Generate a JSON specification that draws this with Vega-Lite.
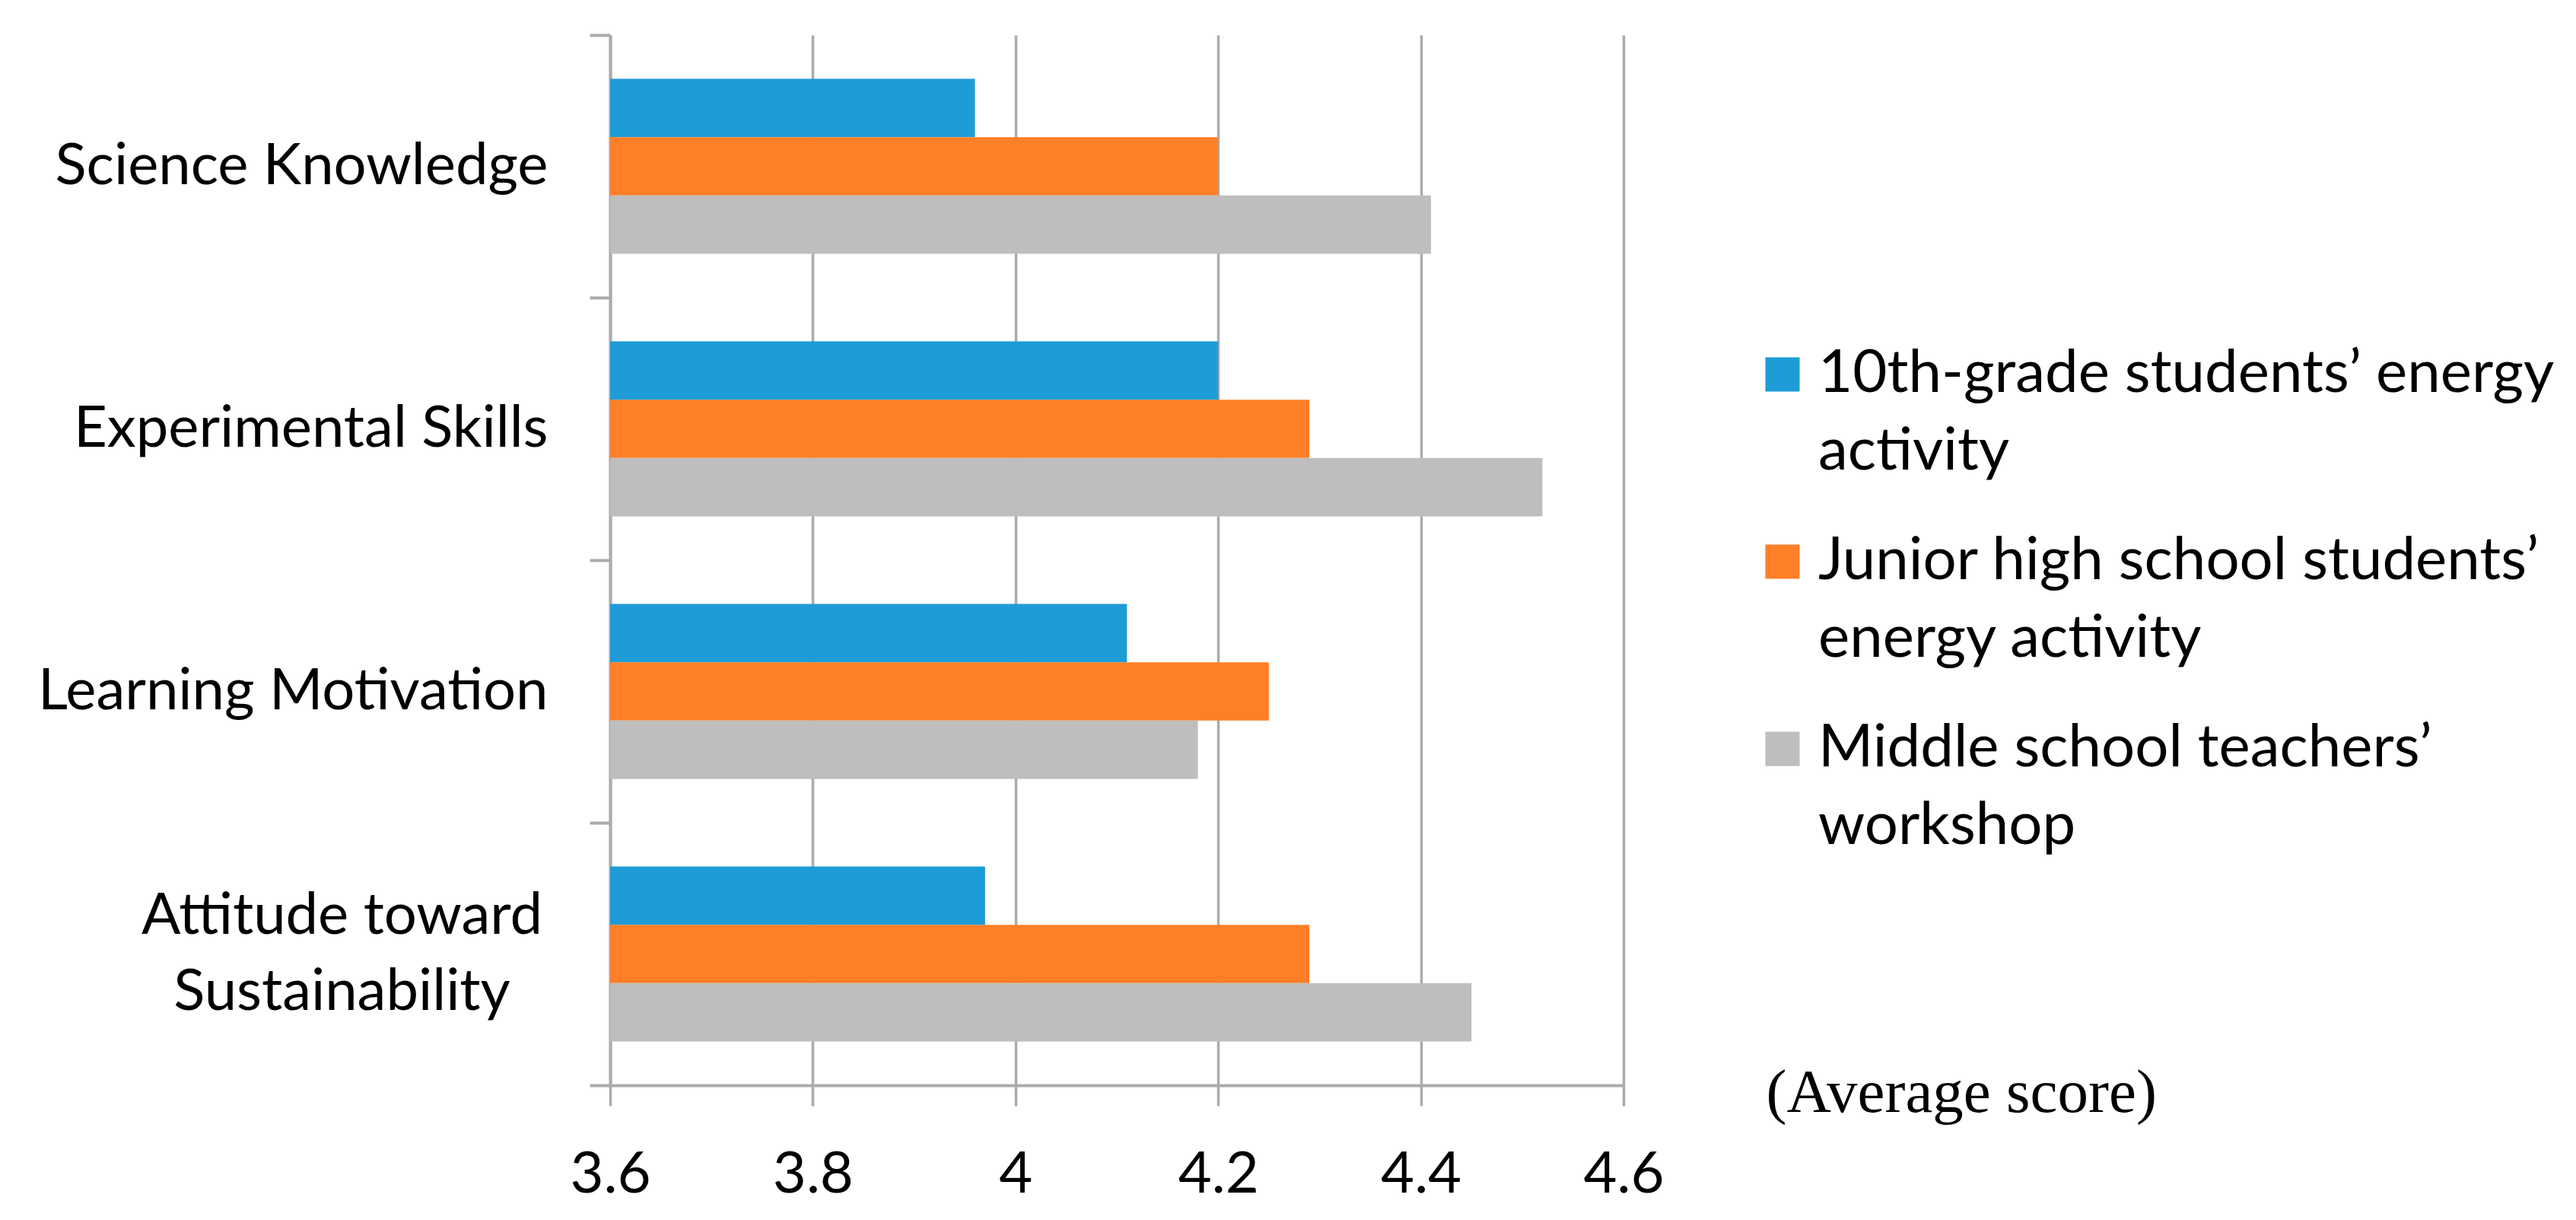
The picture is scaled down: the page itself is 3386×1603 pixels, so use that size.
{
  "$schema": "https://vega.github.io/schema/vega-lite/v6.json",
  "description": "Average scores by dimension for three energy activities",
  "autosize": {"type": "none"},
  "padding": {"left": 802, "top": 46, "right": 1252, "bottom": 177},
  "width": 1332,
  "height": 1380,
  "background": "white",
  "config": {
    "view": {"stroke": null},
    "style": {"guide-label": {"lineHeight": 102}}
  },
  "data": {
    "values": [
      {"dimension": "Science Knowledge", "group": "10th-grade students’ energy activity", "score": 3.96},
      {"dimension": "Science Knowledge", "group": "Junior high school students’ energy activity", "score": 4.20},
      {"dimension": "Science Knowledge", "group": "Middle school teachers’ workshop", "score": 4.41},
      {"dimension": "Experimental Skills", "group": "10th-grade students’ energy activity", "score": 4.20},
      {"dimension": "Experimental Skills", "group": "Junior high school students’ energy activity", "score": 4.29},
      {"dimension": "Experimental Skills", "group": "Middle school teachers’ workshop", "score": 4.52},
      {"dimension": "Learning Motivation", "group": "10th-grade students’ energy activity", "score": 4.11},
      {"dimension": "Learning Motivation", "group": "Junior high school students’ energy activity", "score": 4.25},
      {"dimension": "Learning Motivation", "group": "Middle school teachers’ workshop", "score": 4.18},
      {"dimension": "Attitude toward Sustainability", "group": "10th-grade students’ energy activity", "score": 3.97},
      {"dimension": "Attitude toward Sustainability", "group": "Junior high school students’ energy activity", "score": 4.29},
      {"dimension": "Attitude toward Sustainability", "group": "Middle school teachers’ workshop", "score": 4.45}
    ]
  },
  "mark": {"type": "bar", "clip": true},
  "encoding": {
    "y": {
      "field": "dimension",
      "type": "nominal",
      "sort": ["Science Knowledge", "Experimental Skills", "Learning Motivation", "Attitude toward Sustainability"],
      "scale": {"paddingInner": 0, "paddingOuter": 0},
      "axis": {
        "title": null,
        "tickBand": "extent",
        "domainColor": "#ababab",
        "domainWidth": 4,
        "tickColor": "#ababab",
        "tickWidth": 4,
        "tickSize": 27,
        "labelFont": "Lato",
        "labelFontSize": 76,
        "labelColor": "black",
        "labelPadding": {"condition": {"test": "datum.value == 'Attitude toward Sustainability'", "value": 326}, "value": 55},
        "labelAlign": {"condition": {"test": "datum.value == 'Attitude toward Sustainability'", "value": "center"}, "value": "right"},
        "labelOffset": {"condition": {"test": "datum.value == 'Attitude toward Sustainability'", "value": -50}, "value": 0},
        "labelLimit": 1000,
        "labelLineHeight": 100,
        "labelExpr": "datum.label == 'Attitude toward Sustainability' ? ['Attitude toward', 'Sustainability'] : datum.label"
      }
    },
    "yOffset": {
      "field": "group",
      "type": "nominal",
      "sort": ["10th-grade students’ energy activity", "Junior high school students’ energy activity", "Middle school teachers’ workshop"],
      "scale": {"paddingInner": 0, "paddingOuter": 0.75}
    },
    "x": {
      "field": "score",
      "type": "quantitative",
      "scale": {"domain": [3.6, 4.6], "zero": false, "nice": false},
      "axis": {
        "values": [3.6, 3.8, 4, 4.2, 4.4, 4.6],
        "format": "~g",
        "grid": true,
        "gridColor": "#ababab",
        "gridWidth": 3.5,
        "domainColor": "#ababab",
        "domainWidth": 4,
        "tickColor": "#ababab",
        "tickWidth": 3.5,
        "tickSize": 27,
        "labelFont": "Lato",
        "labelFontSize": 76,
        "labelColor": "black",
        "labelPadding": 53,
        "labelFlush": false,
        "labelOverlap": false,
        "title": "(Average score)",
        "titleFont": "Liberation Serif",
        "titleFontSize": 81,
        "titleFontWeight": "normal",
        "titleColor": "black",
        "titleAlign": "left",
        "titleAnchor": null,
        "titleBaseline": "alphabetic",
        "titleX": 1519,
        "titleY": 34
      }
    },
    "color": {
      "field": "group",
      "type": "nominal",
      "scale": {
        "domain": ["10th-grade students’ energy activity", "Junior high school students’ energy activity", "Middle school teachers’ workshop"],
        "range": ["#1e9cd7", "#fe7f27", "#bebebe"]
      },
      "legend": {
        "title": null,
        "orient": "none",
        "legendX": 1502,
        "legendY": 407,
        "symbolType": "square",
        "symbolSize": 2025,
        "symbolStrokeWidth": 0,
        "symbolOpacity": 1,
        "labelFont": "Lato",
        "labelFontSize": 78,
        "labelColor": "black",
        "labelOffset": 8,
        "labelLimit": 1200,
        "rowPadding": 66,
        "labelExpr": "datum.label == '10th-grade students’ energy activity' ? ['10th-grade students’ energy', 'activity'] : datum.label == 'Junior high school students’ energy activity' ? ['Junior high school students’', 'energy activity'] : ['Middle school teachers’', 'workshop']"
      }
    }
  }
}
